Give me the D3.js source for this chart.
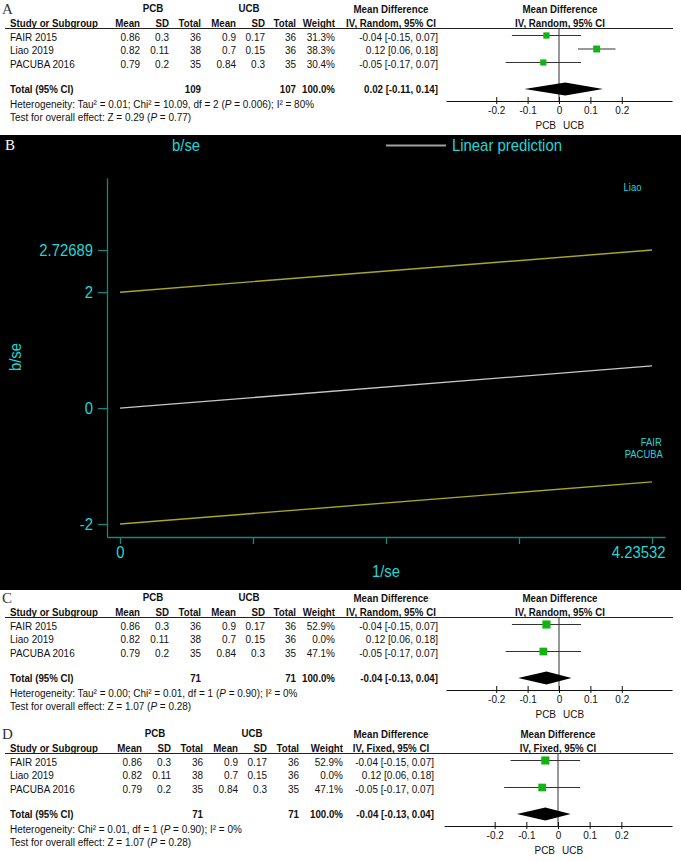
<!DOCTYPE html>
<html><head><meta charset="utf-8">
<script src="https://cdn.jsdelivr.net/npm/d3@7"></script>
<style>body{margin:0;background:#fff}svg{display:block}</style>
</head><body>
<svg id="c" width="681" height="861"></svg>
<script>
// ---------------- DATA ----------------
const studies   = ["FAIR 2015", "Liao 2019", "PACUBA 2016"];
const pcbMean   = [0.86, 0.82, 0.79];
const pcbSD     = [0.3, 0.11, 0.2];
const pcbTotal  = [36, 38, 35];
const ucbMean   = [0.9, 0.7, 0.84];
const ucbSD     = [0.17, 0.15, 0.3];
const ucbTotal  = [36, 36, 35];
const mdEst     = [-0.04, 0.12, -0.05];
const mdLow     = [-0.15, 0.06, -0.17];
const mdHigh    = [0.07, 0.18, 0.07];
const weightsA  = [31.3, 38.3, 30.4];
const weightsC  = [52.9, 0.0, 47.1];
const weightsD  = [52.9, 0.0, 47.1];
const totalsA   = {pcb: 109, ucb: 107, w: 100.0, md: 0.02, lo: -0.11, hi: 0.14};
const totalsC   = {pcb: 71, ucb: 71, w: 100.0, md: -0.04, lo: -0.13, hi: 0.04};
const totalsD   = {pcb: 71, ucb: 71, w: 100.0, md: -0.04, lo: -0.13, hi: 0.04};
const hetA  = "Heterogeneity: Tau² = 0.01; Chi² = 10.09, df = 2 (P = 0.006); I² = 80%";
const hetC  = "Heterogeneity: Tau² = 0.00; Chi² = 0.01, df = 1 (P = 0.90); I² = 0%";
const hetD  = "Heterogeneity: Chi² = 0.01, df = 1 (P = 0.90); I² = 0%";
const testA = "Test for overall effect: Z = 0.29 (P = 0.77)";
const testC = "Test for overall effect: Z = 1.07 (P = 0.28)";
const testD = "Test for overall effect: Z = 1.07 (P = 0.28)";
const forestTicks = [-0.2, -0.1, 0, 0.1, 0.2];
const forestDomain = [-0.36, 0.36];

// Galbraith panel (B)
const galX        = [0, 4.23532];
const galPred     = [0, 0.72689];
const galUpper    = [2, 2.72689];
const galLower    = [-2, -1.27311];
const galYTicks   = [-2, 0, 2, 2.72689];
const galXTicks   = [0, 1.05883, 2.11766, 3.17649, 4.23532];
const galXLabeled = [0, 4.23532];
const galXDomain  = [-0.1035, 4.339];
const galYDomain  = [-2.224, 3.97];
const ptNames = ["Liao", "FAIR", "PACUBA"];
const ptX     = [4.08, 4.23, 4.17];
const ptY     = [3.81, -0.59, -0.80];

// ---------------- DRAW ----------------
const svg = d3.select("#c");
svg.append("rect").attr("width", 681).attr("height", 861).attr("fill", "#fff");

const FF = "'Liberation Sans', Arial, sans-serif";
function txt(g, x, y, s, o = {}) {
  const sx = o.sx || (o.bold ? 0.9 : 0.925);
  const t = g.append("text")
    .attr("transform", `translate(${x},${y}) scale(${sx},1)`)
    .attr("font-family", o.ff || FF)
    .attr("font-size", o.fs || 10.8)
    .attr("font-weight", o.bold ? "bold" : "normal")
    .attr("text-anchor", o.anchor || "start")
    .attr("fill", o.fill || "#111");
  const i = s.indexOf("(P ");
  if (i >= 0) {
    t.append("tspan").text(s.slice(0, i + 1));
    t.append("tspan").attr("font-style", "italic").text("P");
    t.append("tspan").text(s.slice(i + 2));
  } else t.text(s);
  return t;
}
const f2 = v => v.toFixed(2);
const mdStr = (m, l, h) => `${f2(m)} [${f2(l)}, ${f2(h)}]`;

const colsAC = {pcbC: 153, ucbC: 249, m1: 140, s1: 169, t1: 201, m2: 236, s2: 265, t2: 296, w: 335, md: 438, mdC: 391, plotC: 560, axis: [446, 672]};
const colsD  = {pcbC: 155, ucbC: 252, m1: 142, s1: 171, t1: 203, m2: 238, s2: 267, t2: 299, w: 343, md: 434, mdC: 391, plotC: 558, axis: [444, 672]};

function forest(p) {
  const g = svg.append("g").attr("transform", `translate(0,${p.y0})`);
  const c = p.cols;
  txt(g, 2, 14, p.letter, {ff: "'Liberation Serif', 'Times New Roman', serif", fs: 15, sx: 1, fill: "#333"});
  txt(g, c.pcbC, 12, "PCB", {bold: true, anchor: "middle"});
  txt(g, c.ucbC, 12, "UCB", {bold: true, anchor: "middle"});
  txt(g, c.mdC, 13, "Mean Difference", {bold: true, anchor: "middle"});
  txt(g, c.plotC, 13, "Mean Difference", {bold: true, anchor: "middle"});
  const hy = 27;
  txt(g, 10, hy, "Study or Subgroup", {bold: true});
  txt(g, c.m1, hy, "Mean", {bold: true, anchor: "end"});
  txt(g, c.s1, hy, "SD", {bold: true, anchor: "end"});
  txt(g, c.t1, hy, "Total", {bold: true, anchor: "end"});
  txt(g, c.m2, hy, "Mean", {bold: true, anchor: "end"});
  txt(g, c.s2, hy, "SD", {bold: true, anchor: "end"});
  txt(g, c.t2, hy, "Total", {bold: true, anchor: "end"});
  txt(g, c.w, hy, "Weight", {bold: true, anchor: "end"});
  txt(g, c.mdC, hy, p.method, {bold: true, anchor: "middle"});
  txt(g, c.plotC, hy, p.method, {bold: true, anchor: "middle"});
  g.append("line").attr("x1", 5).attr("x2", 673).attr("y1", 28.5).attr("y2", 28.5)
    .attr("stroke", "#222").attr("stroke-width", 1);

  const x = d3.scaleLinear().domain(forestDomain).range(c.axis);
  const axisY = 101;
  g.append("line").attr("x1", x(0)).attr("x2", x(0)).attr("y1", 28.5).attr("y2", axisY)
    .attr("stroke", "#333").attr("stroke-width", 1);

  const rowY = [40.5, 54, 67.5];
  studies.forEach((s, i) => {
    const y = rowY[i];
    txt(g, 10, y, s);
    txt(g, c.m1, y, String(pcbMean[i]), {anchor: "end"});
    txt(g, c.s1, y, String(pcbSD[i]), {anchor: "end"});
    txt(g, c.t1, y, String(pcbTotal[i]), {anchor: "end"});
    txt(g, c.m2, y, String(ucbMean[i]), {anchor: "end"});
    txt(g, c.s2, y, String(ucbSD[i]), {anchor: "end"});
    txt(g, c.t2, y, String(ucbTotal[i]), {anchor: "end"});
    txt(g, c.w, y, p.weights[i].toFixed(1) + "%", {anchor: "end"});
    txt(g, c.md, y, mdStr(mdEst[i], mdLow[i], mdHigh[i]), {anchor: "end"});
    if (p.weights[i] > 0) {
      const cy = y - 5;
      g.append("line").attr("x1", x(mdLow[i])).attr("x2", x(mdHigh[i])).attr("y1", cy).attr("y2", cy)
        .attr("stroke", "#333").attr("stroke-width", 1);
      const sz = 1.12 * Math.sqrt(p.weights[i]);
      g.append("rect").attr("x", x(mdEst[i]) - sz / 2).attr("y", cy - sz / 2)
        .attr("width", sz).attr("height", sz).attr("fill", "#12b312");
    }
  });

  const ty = 93, T = p.totals;
  txt(g, 10, ty, "Total (95% CI)", {bold: true});
  txt(g, c.t1, ty, String(T.pcb), {bold: true, anchor: "end"});
  txt(g, c.t2, ty, String(T.ucb), {bold: true, anchor: "end"});
  txt(g, c.w, ty, T.w.toFixed(1) + "%", {bold: true, anchor: "end"});
  txt(g, c.md, ty, mdStr(T.md, T.lo, T.hi), {bold: true, anchor: "end"});
  const dy = ty - 4;
  g.append("path")
    .attr("d", `M${x(T.lo)},${dy}L${x(T.md)},${dy - 6.5}L${x(T.hi)},${dy}L${x(T.md)},${dy + 6.5}Z`)
    .attr("fill", "#000");

  txt(g, 10, 107.5, p.het);
  txt(g, 10, 121, p.test);

  const ax = g.append("g").attr("transform", `translate(0,${axisY})`)
    .call(d3.axisBottom(x).tickValues(forestTicks).tickSizeInner(3).tickSizeOuter(0).tickPadding(2.5)
      .tickFormat(d => d === 0 ? "0" : d.toFixed(1)));
  ax.select(".domain").attr("stroke", "#111");
  ax.selectAll(".tick line").attr("y1", -4).attr("stroke", "#111");
  ax.selectAll(".tick text").attr("font-family", FF).attr("font-size", 10.8)
    .attr("fill", "#111").attr("transform", "scale(0.925,1)");
  txt(g, x(0) - 3, 129, "PCB", {anchor: "end"});
  txt(g, x(0) + 4, 129, "UCB");
}

forest({y0: 0, letter: "A", cols: colsAC, method: "IV, Random, 95% CI", weights: weightsA, totals: totalsA, het: hetA, test: testA});

// ---------------- PANEL B ----------------
const CY = "#22d6d6", AXC = "#15877d";
const gB = svg.append("g");
gB.append("rect").attr("x", 0).attr("y", 135).attr("width", 681).attr("height", 455).attr("fill", "#000");
txt(gB, 5, 150, "B", {ff: "'Liberation Serif', 'Times New Roman', serif", fs: 15, sx: 1, fill: "#fff"});

const gx = d3.scaleLinear().domain(galXDomain).range([107, 665]);
const gy = d3.scaleLinear().domain(galYDomain).range([537, 178]);

const xa = gB.append("g").attr("transform", "translate(0,537)")
  .call(d3.axisBottom(gx).tickValues(galXTicks).tickSizeInner(7).tickSizeOuter(0).tickPadding(3)
    .tickFormat(d => galXLabeled.includes(d) ? String(d) : ""));
const ya = gB.append("g").attr("transform", "translate(107,0)")
  .call(d3.axisLeft(gy).tickValues(galYTicks).tickSizeInner(9).tickSizeOuter(0).tickPadding(6)
    .tickFormat(d => String(d)));
[xa, ya].forEach(a => {
  a.select(".domain").attr("stroke", AXC).attr("stroke-width", 1.3);
  a.selectAll(".tick line").attr("stroke", AXC).attr("stroke-width", 1.3);
  a.selectAll(".tick text").attr("font-family", FF).attr("font-size", 16).attr("fill", CY)
    .attr("transform", "scale(0.93,1)");
});
ya.selectAll(".tick text").attr("dy", "0.36em");
// last x label right-aligned to the axis end
xa.selectAll(".tick text").filter(d => d === galXLabeled[galXLabeled.length - 1])
  .attr("text-anchor", "end").attr("x", (665 - gx(galXLabeled[galXLabeled.length - 1])) / 0.93);

const line = d3.line().x(d => gx(d[0])).y(d => gy(d[1]));
gB.append("path").attr("d", line(galX.map((v, i) => [v, galUpper[i]]))).attr("stroke", "#a8a826").attr("stroke-width", 1.4).attr("fill", "none");
gB.append("path").attr("d", line(galX.map((v, i) => [v, galLower[i]]))).attr("stroke", "#a8a826").attr("stroke-width", 1.4).attr("fill", "none");
gB.append("path").attr("d", line(galX.map((v, i) => [v, galPred[i]]))).attr("stroke", "#c8c8c8").attr("stroke-width", 1.3).attr("fill", "none");

ptNames.forEach((n, i) => {
  txt(gB, gx(ptX[i]), gy(ptY[i]) + 4, n, {fs: 10.5, sx: 0.9, fill: CY, anchor: "middle"});
});

txt(gB, 386, 577, "1/se", {fs: 16, sx: 0.93, fill: CY, anchor: "middle"});
gB.append("text").attr("transform", "translate(21,357) rotate(-90) scale(0.93,1)")
  .attr("font-family", FF).attr("font-size", 16).attr("fill", CY).attr("text-anchor", "middle").text("b/se");

// legend
txt(gB, 172, 151, "b/se", {fs: 16, sx: 0.93, fill: CY});
gB.append("line").attr("x1", 386).attr("x2", 446).attr("y1", 145.5).attr("y2", 145.5).attr("stroke", "#a0a0a0").attr("stroke-width", 2);
txt(gB, 452, 151, "Linear prediction", {fs: 16, sx: 0.93, fill: CY});

forest({y0: 589, letter: "C", cols: colsAC, method: "IV, Random, 95% CI", weights: weightsC, totals: totalsC, het: hetC, test: testC});
forest({y0: 725, letter: "D", cols: colsD, method: "IV, Fixed, 95% CI", weights: weightsD, totals: totalsD, het: hetD, test: testD});
</script>
</body></html>
